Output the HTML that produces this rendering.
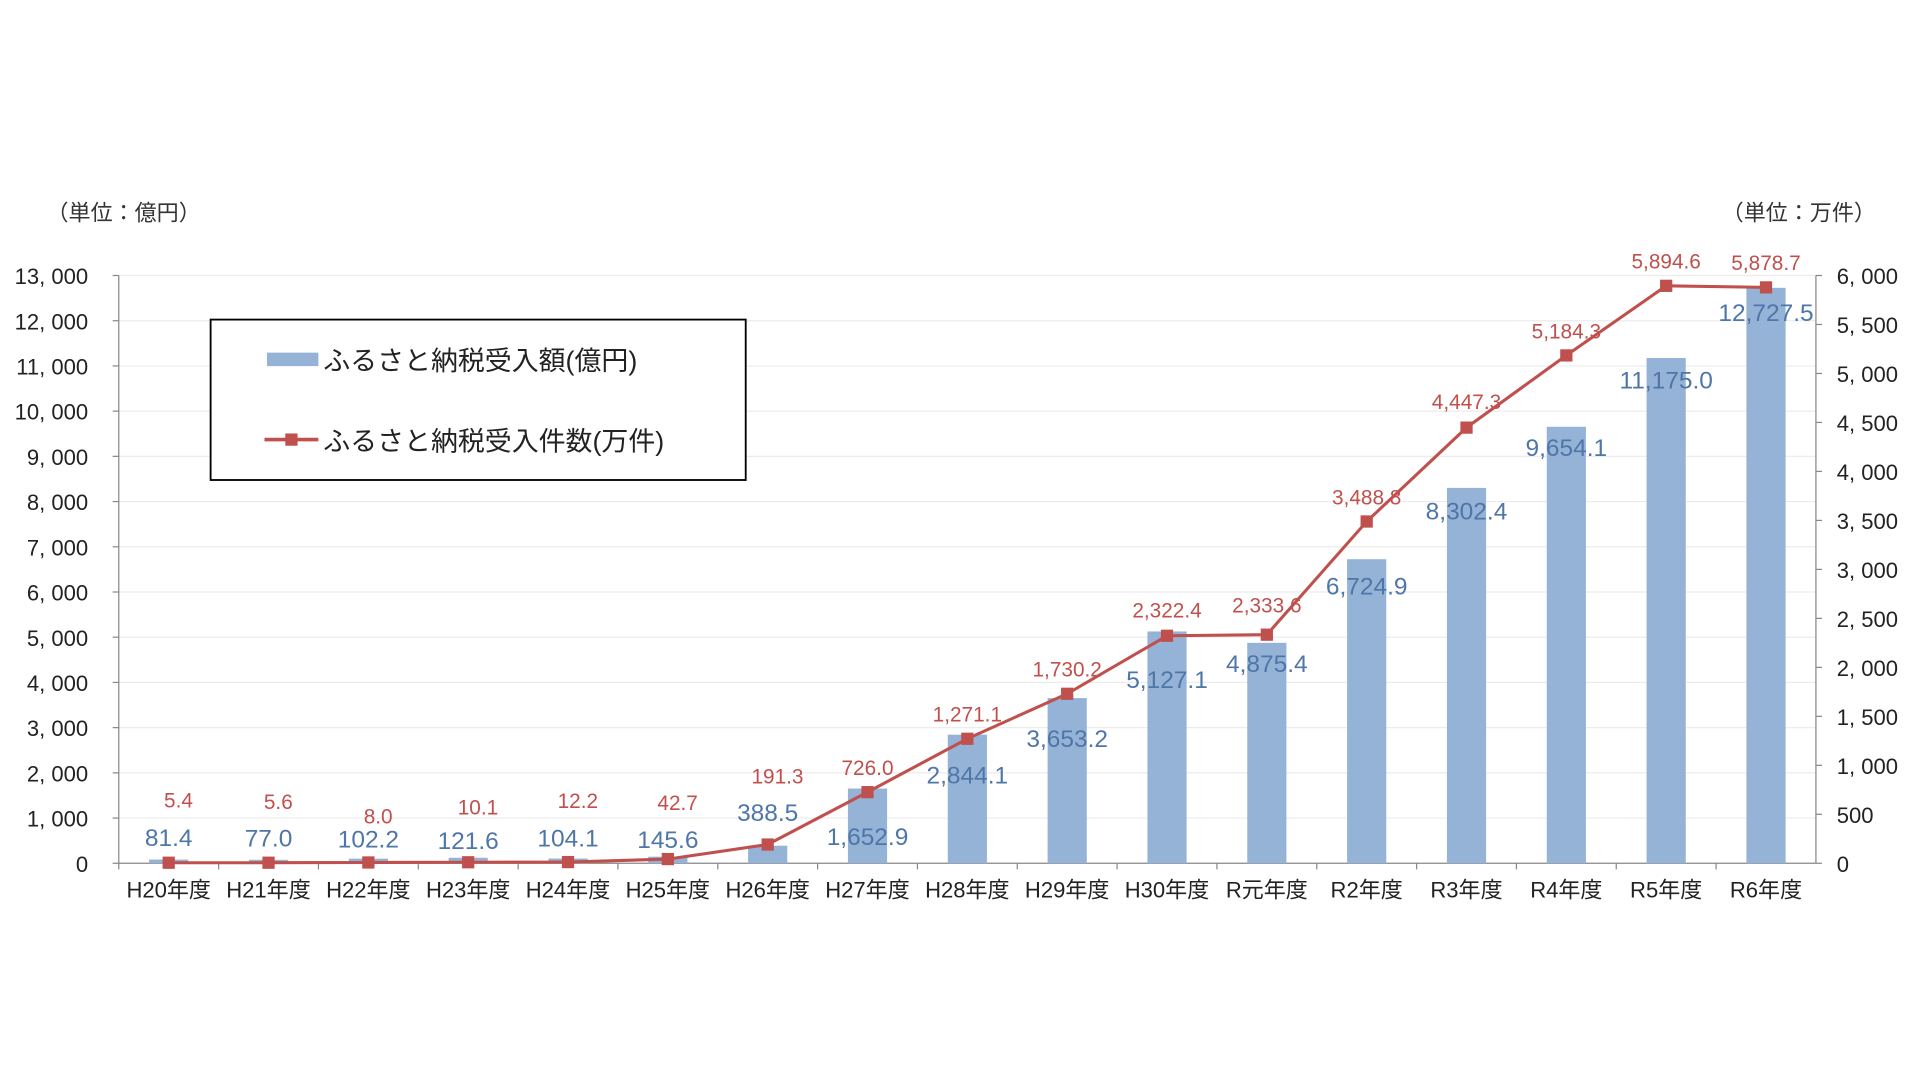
<!DOCTYPE html>
<html><head><meta charset="utf-8"><style>
html,body{margin:0;padding:0;background:#fff;width:1920px;height:1080px;overflow:hidden}
svg{display:block}
text{font-family:"Liberation Sans","Noto Sans CJK JP",sans-serif}
</style></head><body>
<svg id="chart" width="1920" height="1080" viewBox="0 0 1568 882" preserveAspectRatio="none" xmlns="http://www.w3.org/2000/svg">
<text x="38" y="180" font-size="18" fill="#333">（単位：億円）</text>
<text x="1532" y="180" font-size="18" fill="#333" text-anchor="end">（単位：万件）</text>
<g id="grid"></g><g id="bars"></g><g id="axes"></g><g id="line"></g><g id="labels"></g>
<g>
<rect x="172" y="261" width="437" height="131" fill="#fff" stroke="#000" stroke-width="1.5"/>
<rect x="218" y="288" width="42" height="11" fill="#95b3d7"/>
<text x="264" y="302" font-size="22" fill="#222">ふるさと納税受入額(億円)</text>
<line x1="216" y1="359" x2="260" y2="359" stroke="#c0504d" stroke-width="3"/>
<rect x="233" y="354" width="10" height="10" fill="#c0504d"/>
<text x="264" y="368" font-size="22" fill="#222">ふるさと納税受入件数(万件)</text>
</g>
</svg>
<script>
const categories=["H20年度","H21年度","H22年度","H23年度","H24年度","H25年度","H26年度","H27年度","H28年度","H29年度","H30年度","R元年度","R2年度","R3年度","R4年度","R5年度","R6年度"];
const amounts=[81.4,77.0,102.2,121.6,104.1,145.6,388.5,1652.9,2844.1,3653.2,5127.1,4875.4,6724.9,8302.4,9654.1,11175.0,12727.5];
const counts=[5.4,5.6,8.0,10.1,12.2,42.7,191.3,726.0,1271.1,1730.2,2322.4,2333.6,3488.8,4447.3,5184.3,5894.6,5878.7];
const leftTicks=[0,1000,2000,3000,4000,5000,6000,7000,8000,9000,10000,11000,12000,13000];
const rightTicks=[0,500,1000,1500,2000,2500,3000,3500,4000,4500,5000,5500,6000];
const amountLabels=["81.4","77.0","102.2","121.6","104.1","145.6","388.5","1,652.9","2,844.1","3,653.2","5,127.1","4,875.4","6,724.9","8,302.4","9,654.1","11,175.0","12,727.5"];
const countLabels=["5.4","5.6","8.0","10.1","12.2","42.7","191.3","726.0","1,271.1","1,730.2","2,322.4","2,333.6","3,488.8","4,447.3","5,184.3","5,894.6","5,878.7"];
const blueDy=[-18,-18,-16,-14,-17,-14,-27,39,33,33,39,17,22,19,17,18,20];
const redDy=[-45,-44,-32,-39,-44,-40,-50,-14,-14,-14,-15,-18,-14,-15,-14,-14,-14];
const X0=97,X1=1483,Y0=705,Y1=225,NS="http://www.w3.org/2000/svg";
const step=(X1-X0)/categories.length;
const xc=i=>X0+step*(i+0.5);
const yL=v=>Y0-(v/13000)*(Y0-Y1);
const yR=v=>Y0-(v/6000)*(Y0-Y1);
function mk(tag,attrs,parent,txt){const e=document.createElementNS(NS,tag);for(const k in attrs)e.setAttribute(k,attrs[k]);if(txt!==undefined)e.textContent=txt;document.getElementById(parent).appendChild(e);return e;}
const fmt=v=>v.toLocaleString('en-US');
leftTicks.forEach(v=>{
  const g=mk('line',{x1:X0,x2:X1,y1:yL(v),y2:yL(v),stroke:v?'#ececec':'#888','stroke-width':1},'grid');
  
  
  const t=mk('text',{x:X0-25,y:yL(v)+7,'font-size':18,'text-anchor':'end',fill:'#222'},'axes',fmt(v).replace(',', ', '));
  
  
  mk('line',{x1:X0-5,x2:X0,y1:yL(v),y2:yL(v),stroke:'#888'},'axes');
});
rightTicks.forEach(v=>{
  const t=mk('text',{x:X1+17,y:yR(v)+7,'font-size':18,'text-anchor':'start',fill:'#222'},'axes',fmt(v).replace(',', ', '));
  
  
  mk('line',{x1:X1,x2:X1+5,y1:yR(v),y2:yR(v),stroke:'#888'},'axes');
});
mk('line',{x1:X0,x2:X0,y1:Y1,y2:Y0,stroke:'#888'},'axes');
mk('line',{x1:X1,x2:X1,y1:Y1,y2:Y0,stroke:'#888'},'axes');
categories.forEach((c,i)=>{
  mk('line',{x1:X0+step*i,x2:X0+step*i,y1:Y0,y2:Y0+5,stroke:'#888'},'axes');
  const t=mk('text',{x:xc(i),y:Y0+28,'font-size':18,'text-anchor':'middle',fill:'#222'},'axes',c);
  
  
  const b=mk('rect',{x:xc(i)-16,y:yL(amounts[i]),width:32,height:Y0-yL(amounts[i]),fill:'#95b3d7'},'bars');
  
  
  const bl=mk('text',{x:xc(i),y:yL(amounts[i])+blueDy[i]+7,'font-size':20,'text-anchor':'middle',fill:'#4f76a8'},'labels',amountLabels[i]);
  
  
  const rl=mk('text',{x:xc(i)+(i<7?8:0),y:yR(counts[i])+redDy[i],'font-size':17,'text-anchor':'middle',fill:'#c0504d'},'labels',countLabels[i]);
  
  
});
const pl=mk('polyline',{points:counts.map((v,i)=>xc(i)+','+yR(v)).join(' '),fill:'none',stroke:'#c0504d','stroke-width':2.5},'line');


counts.forEach((v,i)=>{
  const m=mk('rect',{x:xc(i)-5,y:yR(v)-5,width:10,height:10,fill:'#c0504d'},'line');
  
  
});
</script>
</body></html>
